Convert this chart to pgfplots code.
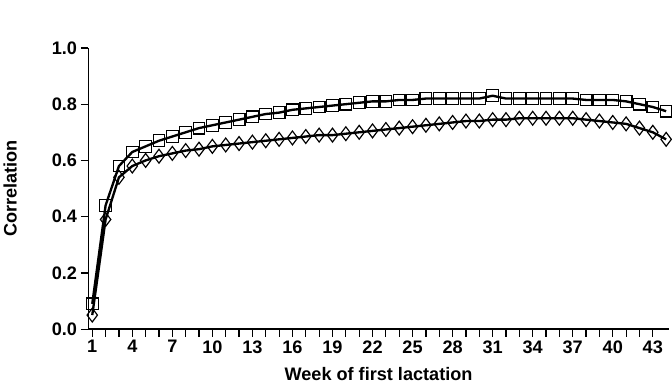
\documentclass[border=0pt]{standalone}
\usepackage{pgfplots}
\pgfplotsset{compat=1.18}
\usepackage{fontspec}
\setmainfont{Liberation Sans}
\begin{document}
\begin{tikzpicture}
\begin{axis}[width=545pt,height=264pt,scale only axis,
 axis lines=left, axis line style={line width=1.3pt,-},
 xmin=0.7,xmax=44.2,ymin=0,ymax=1.0,
 xtick={1,4,...,43}, ytick={0,0.2,...,1.0},
 tick align=outside, tick style={line width=1.1pt,black},major tick length=7pt,minor tick length=7pt,
 minor x tick num=2,
 yticklabel style={/pgf/number format/fixed,/pgf/number format/fixed zerofill,/pgf/number format/precision=1},
 /pgf/number format/assume math mode=true,
 ticklabel style={font=\bfseries\fontsize{17}{19}\selectfont},
 label style={font=\bfseries\fontsize{17}{19}\selectfont},
 ylabel style={yshift=26pt},
 xlabel style={yshift=-6pt},
 xlabel={Week of first lactation}, ylabel={Correlation},
 clip=false]
\addplot[black,line width=2.2pt,mark=square,mark size=5.5pt,mark options={line width=1.1pt,fill=none}] coordinates {
(1,0.09)(2,0.44)(3,0.58)(4,0.63)(5,0.65)(6,0.67)(7,0.685)(8,0.70)(9,0.715)(10,0.725)(11,0.735)(12,0.745)(13,0.755)(14,0.765)(15,0.77)(16,0.78)(17,0.785)(18,0.79)(19,0.795)(20,0.80)(21,0.805)(22,0.81)(23,0.81)(24,0.815)(25,0.815)(26,0.82)(27,0.82)(28,0.82)(29,0.82)(30,0.82)(31,0.83)(32,0.82)(33,0.82)(34,0.82)(35,0.82)(36,0.82)(37,0.82)(38,0.815)(39,0.815)(40,0.815)(41,0.81)(42,0.80)(43,0.79)(44,0.775)};
\addplot[black,line width=2.2pt,mark=diamond,mark size=6.5pt,mark options={line width=1.1pt,fill=none}] coordinates {
(1,0.05)(2,0.39)(3,0.54)(4,0.58)(5,0.60)(6,0.615)(7,0.625)(8,0.635)(9,0.64)(10,0.65)(11,0.655)(12,0.66)(13,0.665)(14,0.67)(15,0.675)(16,0.68)(17,0.685)(18,0.69)(19,0.69)(20,0.695)(21,0.70)(22,0.705)(23,0.71)(24,0.715)(25,0.72)(26,0.725)(27,0.73)(28,0.735)(29,0.74)(30,0.74)(31,0.745)(32,0.745)(33,0.75)(34,0.75)(35,0.75)(36,0.75)(37,0.75)(38,0.745)(39,0.74)(40,0.735)(41,0.73)(42,0.715)(43,0.70)(44,0.675)};
\path (rel axis cs:0,1) ++(0,45pt) coordinate (top);
\end{axis}
\path (top);
\end{tikzpicture}
\end{document}
